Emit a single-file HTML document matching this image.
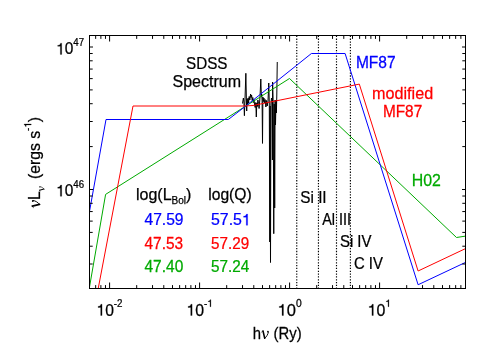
<!DOCTYPE html>
<html>
<head>
<meta charset="utf-8">
<style>
html,body{margin:0;padding:0;background:#fff;}
body{width:488px;height:360px;overflow:hidden;}
svg{display:block;position:absolute;left:0;top:0;will-change:transform;}
text{font-family:"Liberation Sans",sans-serif;fill:#000;stroke:#000;stroke-width:0.25px;}
.t{font-size:16px;}
.s{font-size:10px;}
.nu{font-family:"Liberation Serif",serif;font-style:italic;}
.h{fill:none;stroke:none;}
.o{fill:#000;stroke:#000;}
.b{fill:#0000ff;stroke:#0000ff;}
.r{fill:#ff0000;stroke:#ff0000;}
.g{fill:#00aa00;stroke:#00aa00;}
</style>
</head>
<body>
<svg width="488" height="360" viewBox="0 0 488 360">
<rect x="0" y="0" width="488" height="360" fill="#fff"/>
<g stroke="#000" stroke-width="1.15" stroke-dasharray="1.3 1.53" fill="none">
<path d="M296.75 35.75V288"/>
<path d="M318.45 35.75V288"/>
<path d="M336.5 35.75V288"/>
<path d="M350.4 35.75V288"/>
</g>
<g fill="none" stroke="#000" stroke-width="1" stroke-linejoin="round">
<path d="M242.5 103.5 L243.4 98 L243.9 102 L244.4 115.7 L245.0 99 L245.85 73.3 L246.4 100 L246.7 111 L247.1 99 L247.6 104.5 L248.1 98 L248.6 103 L249.2 96.5 L249.8 100 L250.6 94 L251.1 97.5 L251.6 95 L252.2 100.5 L252.8 97.5 L253.4 102.5 L254 99.5 L254.6 105 L255.2 107.5 L255.8 102.5 L256.3 117 L256.8 103 L257.3 106.5 L257.9 100 L258.5 103.5 L259.1 108.5 L260.0 97 L260.8 79 L261.4 97 L261.7 94 L262.1 100 L262.5 143.4 L262.9 97 L263.4 101.5 L263.9 98 L264.6 103 L265.1 99.5 L265.9 107 L266.5 100.5 L267.2 106 L268.0 101 L268.75 83 L269.3 104 L269.8 242 L270.1 106 L270.5 262.5 L270.9 104 L271.5 98 L272.0 100 L272.4 160 L272.6 82 L273.2 104 L273.75 233.7 L274.2 104 L274.7 208 L275.1 100 L275.5 125 L276.0 100 L276.4 113 L276.8 95 L277.25 62"/>
</g>
<g fill="none" stroke-width="1" stroke-linejoin="miter">
<path stroke="#00aa00" d="M89.5 287 L105.6 194.4 L289.5 78.5 L456.5 237.5 L465.5 236.1"/>
<path stroke="#0000ff" d="M89.5 211.4 L106 119.5 L228.3 119.5 L244 107.4 L311.4 53.5 L345.1 53.5 L418.1 284.75 L465.5 262.4"/>
<path stroke="#ff0000" d="M98.2 288.6 L133 106 L244 106 L253 105.5 L359.3 84.1 L418.1 271 L465.5 248.6"/>
</g>
<rect x="89.5" y="35.5" width="376.0" height="253.0" fill="none" stroke="#000" stroke-width="1"/>
<path d="M95.66 288.50v-3.4 M95.66 35.50v3.4 M100.88 288.50v-3.4 M100.88 35.50v3.4 M105.48 288.50v-3.4 M105.48 35.50v3.4 M109.60 288.50v-6.0 M109.60 35.50v6.0 M136.69 288.50v-3.4 M136.69 35.50v3.4 M152.54 288.50v-3.4 M152.54 35.50v3.4 M163.79 288.50v-3.4 M163.79 35.50v3.4 M172.51 288.50v-3.4 M172.51 35.50v3.4 M179.63 288.50v-3.4 M179.63 35.50v3.4 M185.66 288.50v-3.4 M185.66 35.50v3.4 M190.88 288.50v-3.4 M190.88 35.50v3.4 M195.48 288.50v-3.4 M195.48 35.50v3.4 M199.60 288.50v-6.0 M199.60 35.50v6.0 M226.69 288.50v-3.4 M226.69 35.50v3.4 M242.54 288.50v-3.4 M242.54 35.50v3.4 M253.79 288.50v-3.4 M253.79 35.50v3.4 M262.51 288.50v-3.4 M262.51 35.50v3.4 M269.63 288.50v-3.4 M269.63 35.50v3.4 M275.66 288.50v-3.4 M275.66 35.50v3.4 M280.88 288.50v-3.4 M280.88 35.50v3.4 M285.48 288.50v-3.4 M285.48 35.50v3.4 M289.60 288.50v-6.0 M289.60 35.50v6.0 M316.69 288.50v-3.4 M316.69 35.50v3.4 M332.54 288.50v-3.4 M332.54 35.50v3.4 M343.79 288.50v-3.4 M343.79 35.50v3.4 M352.51 288.50v-3.4 M352.51 35.50v3.4 M359.63 288.50v-3.4 M359.63 35.50v3.4 M365.66 288.50v-3.4 M365.66 35.50v3.4 M370.88 288.50v-3.4 M370.88 35.50v3.4 M375.48 288.50v-3.4 M375.48 35.50v3.4 M379.60 288.50v-6.0 M379.60 35.50v6.0 M406.69 288.50v-3.4 M406.69 35.50v3.4 M422.54 288.50v-3.4 M422.54 35.50v3.4 M433.79 288.50v-3.4 M433.79 35.50v3.4 M442.51 288.50v-3.4 M442.51 35.50v3.4 M449.63 288.50v-3.4 M449.63 35.50v3.4 M455.66 288.50v-3.4 M455.66 35.50v3.4 M460.88 288.50v-3.4 M460.88 35.50v3.4 M89.50 264.01h3.2 M465.50 264.01h-3.2 M89.50 246.21h3.2 M465.50 246.21h-3.2 M89.50 232.40h3.2 M465.50 232.40h-3.2 M89.50 221.11h3.2 M465.50 221.11h-3.2 M89.50 211.57h3.2 M465.50 211.57h-3.2 M89.50 203.31h3.2 M465.50 203.31h-3.2 M89.50 196.02h3.2 M465.50 196.02h-3.2 M89.50 189.50h3.5 M465.50 189.50h-3.5 M89.50 146.60h3.2 M465.50 146.60h-3.2 M89.50 121.51h3.2 M465.50 121.51h-3.2 M89.50 103.71h3.2 M465.50 103.71h-3.2 M89.50 89.90h3.2 M465.50 89.90h-3.2 M89.50 78.61h3.2 M465.50 78.61h-3.2 M89.50 69.07h3.2 M465.50 69.07h-3.2 M89.50 60.81h3.2 M465.50 60.81h-3.2 M89.50 53.52h3.2 M465.50 53.52h-3.2 M89.50 47.00h3.5 M465.50 47.00h-3.5" stroke="#000" stroke-width="1" fill="none"/>
<g transform="translate(56.15,54.40) scale(0.9667,1)"><text class="t"><tspan class="h">1</tspan>0<tspan class="s" dy="-8.8">47</tspan></text><path class="o " d="M359 0L272 0L272 505L101 505L101 567C200 570 258 610 287 703L359 703Z" transform="translate(0.00,0.00) scale(0.0160,-0.0160)" style="stroke-width:15.6px"/></g>
<g transform="translate(56.15,196.30) scale(0.9667,1)"><text class="t"><tspan class="h">1</tspan>0<tspan class="s" dy="-8.8">46</tspan></text><path class="o " d="M359 0L272 0L272 505L101 505L101 567C200 570 258 610 287 703L359 703Z" transform="translate(0.00,0.00) scale(0.0160,-0.0160)" style="stroke-width:15.6px"/></g>
<g transform="translate(96.43,315.50) scale(0.9778,1)"><text class="t"><tspan class="h">1</tspan>0<tspan class="s" dy="-8.8">-2</tspan></text><path class="o " d="M359 0L272 0L272 505L101 505L101 567C200 570 258 610 287 703L359 703Z" transform="translate(0.00,0.00) scale(0.0160,-0.0160)" style="stroke-width:15.6px"/></g>
<g transform="translate(186.42,315.50) scale(0.9892,1)"><text class="t"><tspan class="h">1</tspan>0<tspan class="s" dy="-8.8">-<tspan class="h">1</tspan></tspan></text><path class="o " d="M359 0L272 0L272 505L101 505L101 567C200 570 258 610 287 703L359 703Z" transform="translate(0.00,0.00) scale(0.0160,-0.0160)" style="stroke-width:15.6px"/><path class="o " d="M359 0L272 0L272 505L101 505L101 567C200 570 258 610 287 703L359 703Z" transform="translate(21.12,-8.80) scale(0.0100,-0.0100)" style="stroke-width:25.0px"/></g>
<g transform="translate(277.55,315.50) scale(1.0302,1)"><text class="t"><tspan class="h">1</tspan>0<tspan class="s" dy="-8.8">0</tspan></text><path class="o " d="M359 0L272 0L272 505L101 505L101 567C200 570 258 610 287 703L359 703Z" transform="translate(0.00,0.00) scale(0.0160,-0.0160)" style="stroke-width:15.6px"/></g>
<g transform="translate(367.61,315.50) scale(0.9950,1)"><text class="t"><tspan class="h">1</tspan>0<tspan class="s" dy="-8.8"><tspan class="h">1</tspan></tspan></text><path class="o " d="M359 0L272 0L272 505L101 505L101 567C200 570 258 610 287 703L359 703Z" transform="translate(0.00,0.00) scale(0.0160,-0.0160)" style="stroke-width:15.6px"/><path class="o " d="M359 0L272 0L272 505L101 505L101 567C200 570 258 610 287 703L359 703Z" transform="translate(17.79,-8.80) scale(0.0100,-0.0100)" style="stroke-width:25.0px"/></g>
<g transform="translate(252.82,338.75) scale(0.9291,1)"><text class="t">h<tspan class="h">v</tspan><tspan dx="1"> (Ry)</tspan></text><g transform="translate(9.20,0.00) scale(0.0160,-0.0160)" fill="none" stroke="#000" stroke-linecap="round" stroke-linejoin="round"><path d="M22 420Q55 492 118 488" stroke-width="50"/><path d="M112 478L226 36" stroke-width="105"/><path d="M226 22C350 130 452 280 470 415" stroke-width="60"/><circle cx="440" cy="448" r="58" fill="#000" stroke="none"/></g></g>
<g transform="translate(40.00,207.90) rotate(-90) scale(0.9847,1)"><text class="t"><tspan class="h">v</tspan>L<tspan class="s" dy="4.3"><tspan class="h">v</tspan></tspan><tspan dy="-4.3" dx="3"> (ergs s</tspan><tspan class="s" dy="-8.8">-<tspan class="h">1</tspan></tspan><tspan dy="8.8">)</tspan></text><path class="o " d="M359 0L272 0L272 505L101 505L101 567C200 570 258 610 287 703L359 703Z" transform="translate(81.57,-8.80) scale(0.0100,-0.0100)" style="stroke-width:25.0px"/><g transform="translate(0.00,0.00) scale(0.0160,-0.0160)" fill="none" stroke="#000" stroke-linecap="round" stroke-linejoin="round"><path d="M22 420Q55 492 118 488" stroke-width="50"/><path d="M112 478L226 36" stroke-width="105"/><path d="M226 22C350 130 452 280 470 415" stroke-width="60"/><circle cx="440" cy="448" r="58" fill="#000" stroke="none"/></g><g transform="translate(16.90,4.30) scale(0.0100,-0.0100)" fill="none" stroke="#000" stroke-linecap="round" stroke-linejoin="round"><path d="M22 420Q55 492 118 488" stroke-width="50"/><path d="M112 478L226 36" stroke-width="105"/><path d="M226 22C350 130 452 280 470 415" stroke-width="60"/><circle cx="440" cy="448" r="58" fill="#000" stroke="none"/></g></g>
<g transform="translate(185.99,69.00) scale(0.9515,1)"><text class="t">SDSS</text></g>
<g transform="translate(172.55,86.60) scale(1.0000,1)"><text class="t">Spectrum</text></g>
<g transform="translate(355.89,68.00) scale(0.9718,1)"><text class="t b">MF87</text></g>
<g transform="translate(372.09,98.70) scale(1.0103,1)"><text class="t r">modified</text></g>
<g transform="translate(382.90,116.50) scale(0.9615,1)"><text class="t r">MF87</text></g>
<g transform="translate(411.66,185.60) scale(0.9945,1)"><text class="t g">H02</text></g>
<g transform="translate(136.00,199.90) scale(1.0000,1)"><text class="t">log(L<tspan class="s" dy="4.3">Bol</tspan><tspan dy="-4.3">)</tspan></text></g>
<g transform="translate(208.22,199.90) scale(0.9776,1)"><text class="t">log(Q)</text></g>
<g transform="translate(144.46,225.30) scale(0.9758,1)"><text class="t b">47.59</text></g>
<g transform="translate(211.00,225.30) scale(0.9932,1)"><text class="t b">57.5<tspan class="h">1</tspan></text><path class="o b" d="M359 0L272 0L272 505L101 505L101 567C200 570 258 610 287 703L359 703Z" transform="translate(31.14,0.00) scale(0.0160,-0.0160)" style="stroke-width:15.6px"/></g>
<g transform="translate(144.46,249.00) scale(0.9656,1)"><text class="t r">47.53</text></g>
<g transform="translate(211.02,249.00) scale(0.9513,1)"><text class="t r">57.29</text></g>
<g transform="translate(144.46,271.50) scale(0.9694,1)"><text class="t g">47.40</text></g>
<g transform="translate(211.02,271.50) scale(0.9554,1)"><text class="t g">57.24</text></g>
<g transform="translate(300.28,202.50) scale(0.9569,1)"><text class="t">Si II</text></g>
<g transform="translate(322.25,225.30) scale(0.9024,1)"><text class="t">Al III</text></g>
<g transform="translate(339.90,247.30) scale(0.9364,1)"><text class="t">Si IV</text></g>
<g transform="translate(353.90,269.40) scale(0.9306,1)"><text class="t">C IV</text></g>
</svg>
</body>
</html>
